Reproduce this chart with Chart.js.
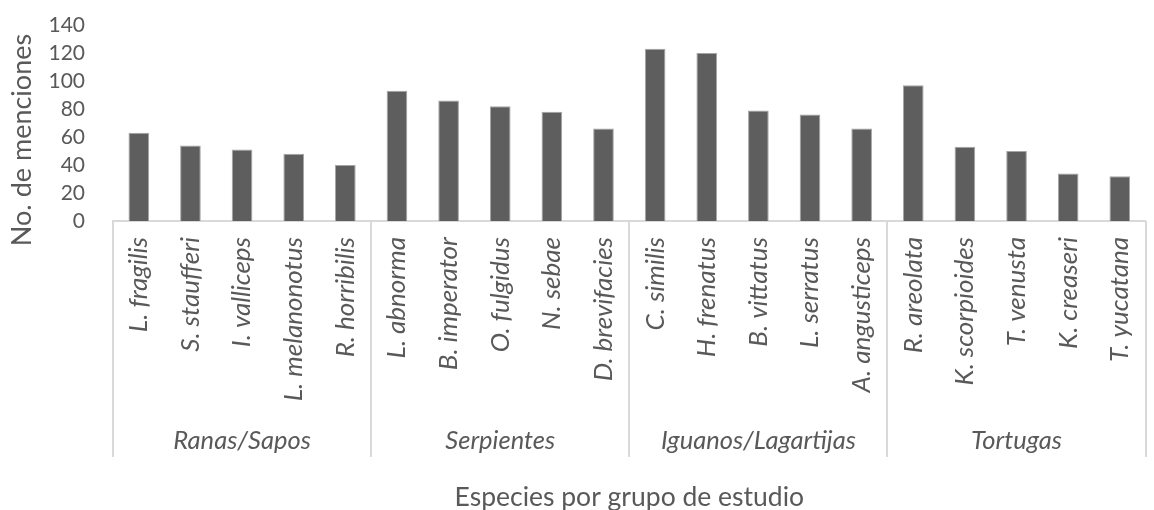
<!DOCTYPE html>
<html lang="es">
<head>
<meta charset="utf-8">
<title>Menciones por especie</title>
<script src="https://cdn.jsdelivr.net/npm/chart.js@4.4.1/dist/chart.umd.min.js"></script>
<style>
    html, body {
        margin: 0;
        padding: 0;
        background: #ffffff;
        overflow: hidden;
    }
    #wrap {
        position: relative;
        width: 1167px;
        height: 510px;
    }
</style>
</head>
<body>
<div id="wrap">
    <canvas id="menciones"></canvas>
</div>
<script>
// Datos: especies (agrupadas de 5 en 5) y número de menciones
const especies = [
    'L. fragilis', 'S. staufferi', 'I. valliceps', 'L. melanonotus', 'R. horribilis',
    'L. abnorma', 'B. imperator', 'O. fulgidus', 'N. sebae', 'D. brevifacies',
    'C. similis', 'H. frenatus', 'B. vittatus', 'L. serratus', 'A. angusticeps',
    'R. areolata', 'K. scorpioides', 'T. venusta', 'K. creaseri', 'T. yucatana'
];
const grupos = ['Ranas/Sapos', 'Serpientes', 'Iguanos/Lagartijas', 'Tortugas'];
const especiesPorGrupo = [5, 5, 5, 5];
const menciones = [
    63, 54, 51, 48, 40,
    93, 86, 82, 78, 66,
    123, 120, 79, 76, 66,
    97, 53, 50, 34, 32
];
const ticksY = [0, 20, 40, 60, 80, 100, 120, 140];

const FUENTE = 'Lato, "Open Sans", sans-serif';
const GRIS_TEXTO = '#595959';
const GRIS_LINEA = '#d9d9d9';

// Líneas separadoras entre grupos y título del eje Y
const separadoresGrupo = {
    id: 'separadoresGrupo',
    afterDraw(chart) {
        const ctx = chart.ctx;
        const x = chart.scales.x;
        const x2 = chart.scales.x2;
        const ancho = (x.right - x.left) / especies.length;
        ctx.save();
        ctx.strokeStyle = GRIS_LINEA;
        ctx.lineWidth = 2;
        let inicio = 0;
        for (let g = 0; g <= grupos.length; g++) {
            const px = Math.round(x.left + inicio * ancho);
            ctx.beginPath();
            ctx.moveTo(px, x.top);
            ctx.lineTo(px, x2.top + 36);
            ctx.stroke();
            if (g < grupos.length) inicio += especiesPorGrupo[g];
        }
        // título del eje Y
        ctx.fillStyle = GRIS_TEXTO;
        ctx.font = '27px ' + FUENTE;
        ctx.textAlign = 'center';
        ctx.textBaseline = 'middle';
        ctx.translate(22, 140);
        ctx.rotate(-Math.PI / 2);
        ctx.fillText('No. de menciones', 0, 0);
        ctx.restore();
    }
};

const chart = new Chart(document.getElementById('menciones'), {
    type: 'bar',
    data: {
        labels: especies,
        datasets: [{
            label: 'No. de menciones',
            data: menciones,
            backgroundColor: '#5e5e5e',
            borderColor: '#a5a5a5',
            borderWidth: 1,
            barPercentage: 0.4,
            categoryPercentage: 1.0
        }]
    },
    options: {
        responsive: true,
        maintainAspectRatio: false,
        animation: false,
        layout: {
            padding: { top: 25, right: 0, bottom: 0, left: 0 }
        },
        plugins: {
            legend: { display: false },
            tooltip: { enabled: false }
        },
        scales: {
            y: {
                min: 0,
                max: 140,
                afterFit(scale) { scale.width = 113; },
                afterBuildTicks(scale) {
                    scale.ticks = ticksY.map(v => ({ value: v }));
                },
                grid: { display: false, drawTicks: true, tickLength: 26 },
                border: { display: false },
                ticks: {
                    color: GRIS_TEXTO,
                    padding: 2,
                    autoSkip: false,
                    font: { family: FUENTE, size: 21 }
                }
            },
            x: {
                position: 'bottom',
                afterFit(scale) { scale.height = 200; },
                grid: { display: false, drawTicks: false },
                border: { display: true, color: GRIS_LINEA, width: 2 },
                ticks: {
                    color: GRIS_TEXTO,
                    minRotation: 90,
                    maxRotation: 90,
                    autoSkip: false,
                    padding: 16,
                    font: { family: FUENTE, size: 26, style: 'italic' }
                }
            },
            x2: {
                type: 'category',
                position: 'bottom',
                labels: grupos,
                offset: true,
                afterFit(scale) { scale.height = 89; },
                grid: { display: false, drawTicks: false },
                border: { display: false },
                ticks: {
                    color: GRIS_TEXTO,
                    padding: 4,
                    maxRotation: 0,
                    autoSkip: false,
                    font: { family: FUENTE, size: 25.5, style: 'italic' }
                },
                title: {
                    display: true,
                    text: 'Especies por grupo de estudio',
                    color: GRIS_TEXTO,
                    padding: { top: 0, bottom: -3 },
                    font: { family: FUENTE, size: 26.5 }
                }
            }
        }
    },
    plugins: [separadoresGrupo]
});
</script>
</body>
</html>
